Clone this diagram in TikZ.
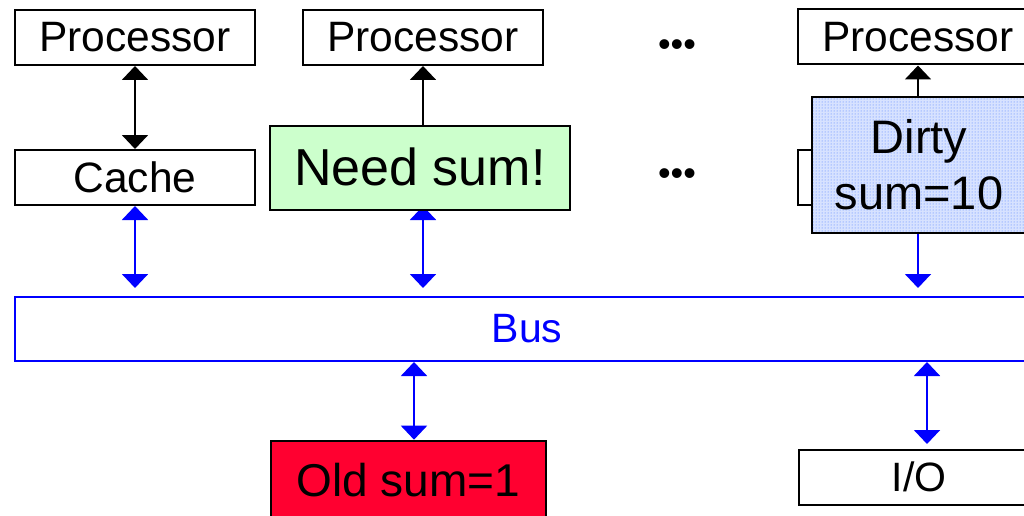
\documentclass[tikz,border=0pt]{standalone}
\usepackage{fontspec}
\setmainfont{Liberation Sans}
\usetikzlibrary{arrows.meta,patterns}

\definecolor{busblue}{RGB}{0,0,255}
\definecolor{notegreen}{RGB}{204,255,204}
\definecolor{oldred}{RGB}{255,0,48}
\definecolor{dirtybg}{RGB}{215,226,255}
\definecolor{dirtydot}{RGB}{70,120,255}

\tikzset{
  unit/.style={draw, line width=2pt, minimum width=240pt, minimum height=55pt,
    inner sep=0pt, font=\fontsize{42.5}{48}\selectfont},
  note/.style={draw, line width=2.6pt, inner sep=0pt, align=center},
  tip/.tip={Triangle[width=26pt,length=14pt]},
  link/.style={line width=2pt, tip-tip},
  buslink/.style={link, busblue},
  dots3/.style={font=\fontsize{36}{40}\selectfont, inner sep=0pt},
}

\begin{document}
\begin{tikzpicture}[x=1pt, y=-1pt]
\useasboundingbox (0,0) rectangle (1024,516);
\clip (0,0) rectangle (1024,516);

% processors and their caches (caches 2 and 3 lie under the state notes)
\node[unit] (p1) at (135,37.5) {Processor};
\node[unit] (c1) at (135,177.5) {Cache};
\node[unit] (p2) at (423,37.5) {Processor};
\node[unit] (c2) at (423,177.5) {};
\node[unit] (p3) at (918,37) {Processor};
\node[unit] (c3) at (918,177) {};

\node[dots3] (d1) at (677,48) {•••};
\node[dots3] (d2) at (677,177) {•••};

% shared bus
\node[draw=busblue, line width=2pt, minimum width=1024pt, minimum height=64pt,
  inner sep=0pt, text=busblue, font=\fontsize{41}{48}\selectfont] (bus) at (527,329) {Bus};

% memory and I/O below the bus
\node[note, fill=oldred, minimum width=275pt, minimum height=79pt,
  font=\fontsize{46}{52}\selectfont] (mem) at (408.5,480.5) {Old sum=1};
\node[unit, font=\fontsize{41}{48}\selectfont] (io) at (919,477) {I/O};

% processor <-> cache links
\draw[link] (p1) -- (c1);
\draw[link] (p2) -- (c2);
\draw[link] (p3) -- (c3);

% cache <-> bus links
\draw[buslink, shorten >=8pt] (c1.south) -- (c1.south |- bus.north);
\draw[buslink, shorten >=8pt] (c2.south) -- (c2.south |- bus.north);
\draw[buslink, shorten >=8pt] (c3.south) -- (c3.south |- bus.north);

% bus <-> memory and I/O
\coordinate (mtop) at ([xshift=5.5pt]mem.north);
\draw[buslink] (bus.south -| mtop) -- (mtop);
\coordinate (iotop) at (927,449);
\draw[buslink, shorten >=5pt] (bus.south -| iotop) -- (iotop);

% cache states laid over caches 2 and 3
\node[note, fill=notegreen, minimum width=300pt, minimum height=84pt,
  font=\fontsize{52}{58}\selectfont] (need) at (420,168) {\raisebox{3pt}{Need sum!}};
\node[note, preaction={fill=dirtybg}, pattern=dots, pattern color=dirtydot,
  minimum width=214pt, minimum height=136pt,
  font=\fontsize{47}{56}\selectfont] (dirty) at (919,165) {Dirty\\sum=10};
\end{tikzpicture}
\end{document}
